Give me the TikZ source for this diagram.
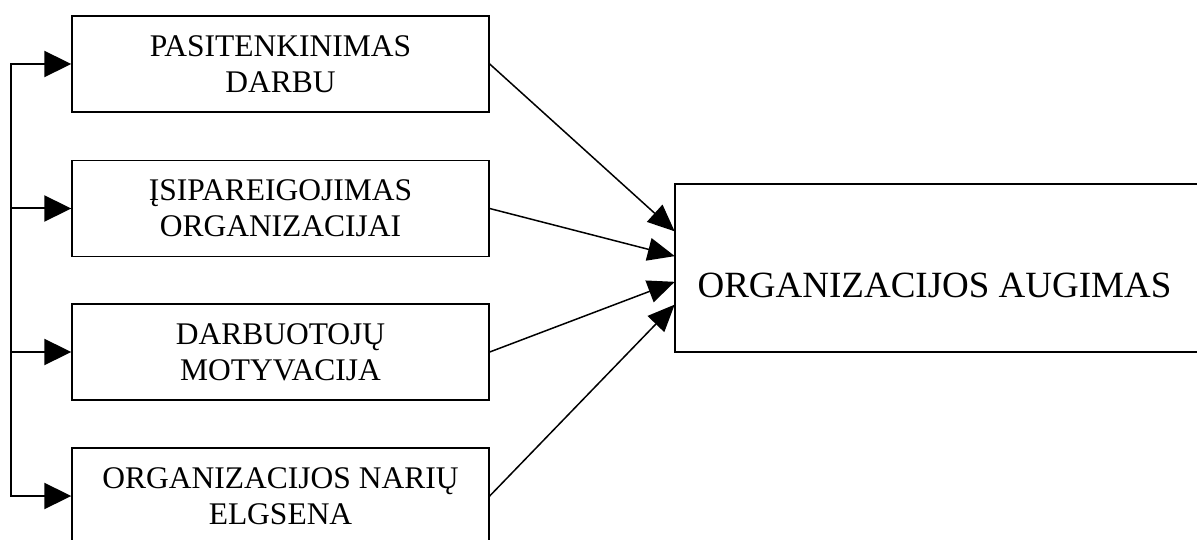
\documentclass[tikz,border=0pt]{standalone}
\usepackage{fontspec}
\setmainfont{Liberation Serif}
\usetikzlibrary{arrows.meta}
\tikzset{
  leftbox/.style={draw=black, line width=1.4pt, minimum width=417pt, minimum height=96pt,
    inner sep=0pt, align=center, font=\fontsize{31.5}{36}\selectfont},
  bigbox/.style={draw=black, line width=1.4pt, minimum width=525pt, minimum height=168pt,
    inner sep=0pt},
  bigtext/.style={font=\fontsize{37}{42}\selectfont, inner sep=0pt, anchor=base},
  feed/.style={line width=2pt, -{Triangle[length=27pt,width=26pt]}},
  spine/.style={line width=1.7pt, line cap=rect},
  link/.style={line width=1.5pt, -{Triangle[length=27pt,width=23pt]}, shorten >=-0.5pt}
}
\begin{document}
\begin{tikzpicture}[x=1pt,y=-1pt]
\clip (0,0) rectangle (1197,540);
\node[leftbox] (b1) at (280.5,64) {PASITENKINIMAS\\DARBU};
\node[leftbox] (b2) at (280.5,208.5) {ĮSIPAREIGOJIMAS\\ORGANIZACIJAI};
\node[leftbox] (b3) at (280.5,352) {DARBUOTOJŲ\\MOTYVACIJA};
\node[leftbox] (b4) at (280.5,496) {ORGANIZACIJOS NARIŲ\\ELGSENA};
\node[bigbox] (r) at (937.5,268) {};
\node[bigtext] (rt) at (934.5,298) {ORGANIZACIJOS AUGIMAS};
\coordinate (c1) at (11,64);
\coordinate (c2) at (11,208.5);
\coordinate (c3) at (11,352);
\coordinate (c4) at (11,496);
\draw[spine] (c1) -- (c4);
\draw[feed] (c1) -- (b1.west);
\draw[feed] (c2) -- (b2.west);
\draw[feed] (c3) -- (b3.west);
\draw[feed] (c4) -- (b4.west);
\draw[link] (b1.east) -- ([yshift=37pt]r.west);
\draw[link] (b2.east) -- ([yshift=12pt]r.west);
\draw[link] (b3.east) -- ([yshift=-14pt]r.west);
\draw[link] (b4.east) -- ([yshift=-37pt]r.west);
\end{tikzpicture}
\end{document}
